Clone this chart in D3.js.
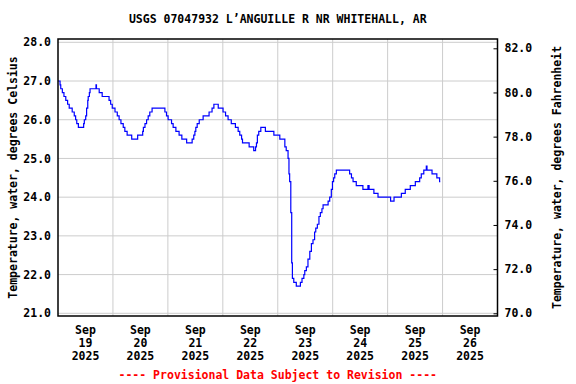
<!DOCTYPE html>
<html>
<head>
<meta charset="utf-8">
<script src="https://cdn.jsdelivr.net/npm/d3@7"></script>
<style>
  body { margin: 0; background: #fff; }
  text { font-family: "DejaVu Sans Mono", monospace; font-weight: bold; font-size: 11.5px; fill: #000; }
</style>
</head>
<body>
<svg id="chart" width="576" height="384"></svg>
<script>
// Chart texts
var title = "USGS 07047932 L\u2019ANGUILLE R NR WHITEHALL, AR";
var leftTitle = "Temperature, water, degrees Celsius";
var rightTitle = "Temperature, water, degrees Fahrenheit";
var footNote = "---- Provisional Data Subject to Revision ----";

// Tick values
var celsiusTicks = [21, 22, 23, 24, 25, 26, 27, 28];
var fahrenheitTicks = [70, 72, 74, 76, 78, 80, 82];
var dayLabels = ["2025-09-19", "2025-09-20", "2025-09-21", "2025-09-22",
                 "2025-09-23", "2025-09-24", "2025-09-25", "2025-09-26"];

// Series: hours after Sep 19 2025 00:00, and the water temperature (C) from that time on
var hours = [0, 0.9, 1.2, 1.9, 2.6, 3.4, 4.2, 4.9, 6.2, 7.1, 7.7, 8.2, 8.9, 11.2, 11.5, 12.1, 12.5, 13.0, 13.2, 13.7, 14.0,
  16.6, 16.8, 18.0, 19.3, 22.3, 23.0, 23.7,
  24.9, 25.9, 26.7, 27.5, 28.5, 29.2, 30.2, 32.2, 34.8, 37.0, 37.3, 38.0, 38.7, 39.4, 40.1, 41.1, 46.7, 47.4,
  48.1, 49.6, 50.3, 51.5, 52.9, 54.1, 56.2, 58.6, 59.3, 59.8, 60.2, 60.8, 61.7, 63.4, 66.0, 67.3, 68.1, 70.0, 72.1,
  73.2, 74.3, 75.7, 77.5, 78.7, 79.4, 80.2, 80.6, 83.5, 85.5, 86.3, 86.7, 87.1, 87.7, 88.6, 90.6, 94.3,
  96.9, 99.1, 99.7, 100.5, 100.9, 101.2, 101.7, 102.1, 102.4, 103.0, 104.1, 105.9, 106.6, 107.4, 107.8, 108.5,
  109.2, 110.0, 110.7, 111.4, 112.1, 112.6, 113.3, 114.0, 114.6, 115.3, 115.8, 118.0, 118.7, 119.4, 119.9,
  120.4, 120.9, 121.6, 127.4, 128.2, 128.9, 130.3, 133.2, 135.4, 135.9, 138.0, 139.8, 145.3, 146.8,
  150.0, 151.7, 153.9, 156.1, 158.0, 158.7, 159.8, 160.9, 161.2, 163.4, 165.5, 166.7, 167.0];
var tempC = [27.0, 26.9, 26.8, 26.7, 26.6, 26.5, 26.4, 26.3, 26.2, 26.1, 26.0, 25.9, 25.8, 25.9, 26.0, 26.1, 26.3, 26.5, 26.6, 26.7, 26.8,
  26.9, 26.8, 26.7, 26.6, 26.5, 26.4, 26.3,
  26.2, 26.1, 26.0, 25.9, 25.8, 25.7, 25.6, 25.5, 25.6, 25.7, 25.8, 25.9, 26.0, 26.1, 26.2, 26.3, 26.2, 26.1,
  26.0, 25.9, 25.8, 25.7, 25.6, 25.5, 25.4, 25.5, 25.6, 25.7, 25.8, 25.9, 26.0, 26.1, 26.2, 26.3, 26.4, 26.3, 26.2,
  26.1, 26.0, 25.9, 25.8, 25.7, 25.6, 25.5, 25.4, 25.3, 25.2, 25.3, 25.4, 25.6, 25.7, 25.8, 25.7, 25.6,
  25.5, 25.3, 25.2, 25.0, 24.6, 24.4, 23.6, 22.3, 21.9, 21.8, 21.7, 21.8, 21.9, 22.0, 22.1, 22.2,
  22.4, 22.6, 22.8, 22.9, 23.1, 23.2, 23.3, 23.5, 23.6, 23.7, 23.8, 23.9, 24.0, 24.2, 24.4,
  24.5, 24.6, 24.7, 24.6, 24.5, 24.4, 24.3, 24.2, 24.3, 24.2, 24.1, 24.0, 23.9, 24.0,
  24.1, 24.2, 24.3, 24.4, 24.5, 24.6, 24.7, 24.8, 24.7, 24.6, 24.5, 24.4, 24.4];

var start = new Date(2025, 8, 19);
var end = new Date(2025, 8, 27);
var data = hours.map(function(h, i) {
  return { date: new Date(start.getTime() + h * 3600 * 1000), value: tempC[i] };
});

// Plot frame
var plotLeft = 58, plotRight = 497.5, plotTop = 39, plotBottom = 316;

var svg = d3.select("#chart");

var x = d3.scaleTime().domain([start, end]).range([plotLeft, plotRight]);
var yC = d3.scaleLinear().domain([21, 28]).range([313.3, 42.3]);
var yF = d3.scaleLinear().domain([70, 82]).range([313.3, 48.3]);

// Grid lines
var days = d3.timeDay.range(d3.timeDay.offset(start, 1), end);
svg.append("g").selectAll("line")
    .data(days)
  .enter().append("line")
    .attr("x1", function(d) { return x(d); })
    .attr("x2", function(d) { return x(d); })
    .attr("y1", plotTop)
    .attr("y2", plotBottom)
    .attr("stroke", "#cccccc")
    .attr("stroke-width", 1);

svg.append("g").selectAll("line")
    .data(celsiusTicks)
  .enter().append("line")
    .attr("x1", plotLeft)
    .attr("x2", plotRight)
    .attr("y1", function(d) { return yC(d); })
    .attr("y2", function(d) { return yC(d); })
    .attr("stroke", "#cccccc")
    .attr("stroke-width", 1);

// Data line
var line = d3.line()
    .x(function(d) { return x(d.date); })
    .y(function(d) { return yC(d.value); })
    .curve(d3.curveStepAfter);

svg.append("path")
    .datum(data)
    .attr("d", line)
    .attr("fill", "none")
    .attr("stroke", "#0000ff")
    .attr("stroke-width", 1.2);

// Frame
svg.append("rect")
    .attr("x", plotLeft)
    .attr("y", plotTop)
    .attr("width", plotRight - plotLeft)
    .attr("height", plotBottom - plotTop)
    .attr("fill", "none")
    .attr("stroke", "#000")
    .attr("stroke-width", 1.5);

// Left axis (Celsius)
var axisL = svg.append("g")
    .attr("transform", "translate(" + plotLeft + ",0)")
    .call(d3.axisLeft(yC).tickValues(celsiusTicks).tickFormat(d3.format(".1f")).tickSize(0).tickPadding(7));
axisL.select(".domain").remove();
axisL.selectAll("text").attr("font-family", null).attr("font-size", null);

// Right axis (Fahrenheit), ticks point inward
var axisR = svg.append("g")
    .attr("transform", "translate(" + plotRight + ",0)")
    .call(d3.axisRight(yF).tickValues(fahrenheitTicks).tickFormat(d3.format(".1f")).tickSizeInner(-4).tickSizeOuter(0).tickPadding(7));
axisR.select(".domain").remove();
axisR.selectAll("line").attr("stroke", "#000");
axisR.selectAll("text").attr("font-family", null).attr("font-size", null);

// Day labels centred on each day
var fmtMon = d3.timeFormat("%b"), fmtDay = d3.timeFormat("%d"), fmtYear = d3.timeFormat("%Y");
var parseDay = d3.timeParse("%Y-%m-%d");
var dayG = svg.append("g").selectAll("text")
    .data(dayLabels.map(parseDay))
  .enter().append("text")
    .attr("text-anchor", "middle")
    .attr("transform", function(d) { return "translate(" + x(d3.timeHour.offset(d, 12)) + ",0)"; });
dayG.append("tspan").attr("x", 0).attr("y", 334).text(function(d) { return fmtMon(d); });
dayG.append("tspan").attr("x", 0).attr("y", 347).text(function(d) { return fmtDay(d); });
dayG.append("tspan").attr("x", 0).attr("y", 360).text(function(d) { return fmtYear(d); });

// Titles
var midX = (plotLeft + plotRight) / 2, midY = (plotTop + plotBottom) / 2;
svg.append("text")
    .attr("x", midX).attr("y", 23)
    .attr("text-anchor", "middle")
    .text(title);

svg.append("text")
    .attr("transform", "translate(13," + midY + ") rotate(-90)")
    .attr("text-anchor", "middle")
    .attr("dy", "0.35em")
    .text(leftTitle);

svg.append("text")
    .attr("transform", "translate(557," + midY + ") rotate(-90)")
    .attr("text-anchor", "middle")
    .attr("dy", "0.35em")
    .text(rightTitle);

svg.append("text")
    .attr("x", midX).attr("y", 379)
    .attr("text-anchor", "middle")
    .style("fill", "#ff0000")
    .text(footNote);
</script>
</body>
</html>
